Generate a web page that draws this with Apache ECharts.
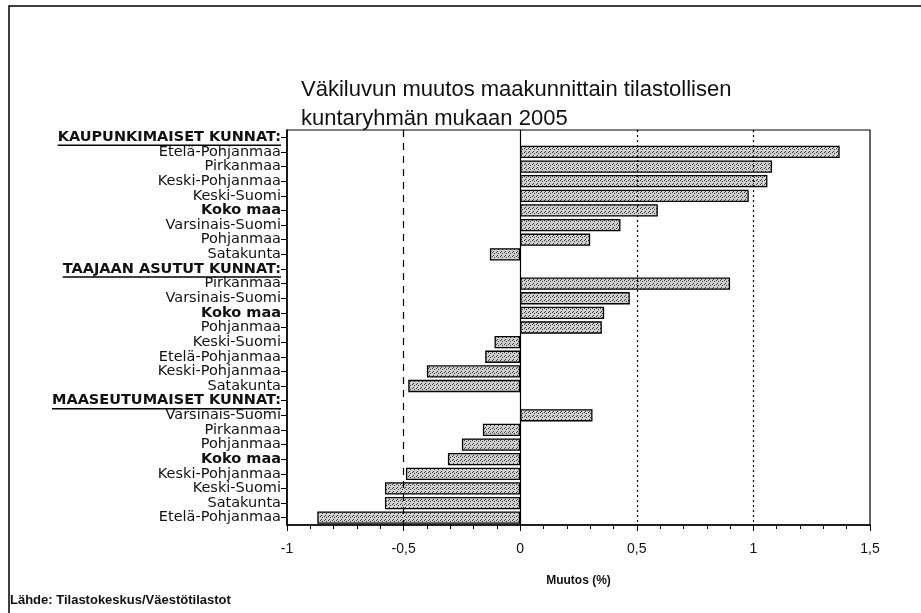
<!DOCTYPE html>
<html>
<head>
<meta charset="utf-8">
<script src="https://cdn.jsdelivr.net/npm/echarts@6/dist/echarts.min.js"></script>
<style>
  html, body { margin: 0; background: #fff; }
  #chart { width: 921px; height: 613px; }
</style>
</head>
<body>
<div id="chart"></div>
<script>
// rivit ylhäältä alas
const categories = [
  'KAUPUNKIMAISET KUNNAT:', 'Etelä-Pohjanmaa', 'Pirkanmaa', 'Keski-Pohjanmaa', 'Keski-Suomi',
  'Koko maa', 'Varsinais-Suomi', 'Pohjanmaa', 'Satakunta',
  'TAAJAAN ASUTUT KUNNAT:', 'Pirkanmaa', 'Varsinais-Suomi', 'Koko maa', 'Pohjanmaa',
  'Keski-Suomi', 'Etelä-Pohjanmaa', 'Keski-Pohjanmaa', 'Satakunta',
  'MAASEUTUMAISET KUNNAT:', 'Varsinais-Suomi', 'Pirkanmaa', 'Pohjanmaa', 'Koko maa',
  'Keski-Pohjanmaa', 'Keski-Suomi', 'Satakunta', 'Etelä-Pohjanmaa'
];
const muutos = [
  null, 1.37, 1.08, 1.06, 0.98, 0.59, 0.43, 0.30, -0.13,
  null, 0.90, 0.47, 0.36, 0.35, -0.11, -0.15, -0.40, -0.48,
  null, 0.31, -0.16, -0.25, -0.31, -0.49, -0.58, -0.58, -0.87
];
const headerRows = [0, 9, 18];
const boldRows = [5, 12, 22];
const xTickLabels = ['-1', '-0,5', '0', '0,5', '1', '1,5'];
const refLines = [-0.5, 0, 0.5, 1];

const gridLeft = 287;
const labelMargin = 6;
const rowSize = 14.5;
const textFont = '"Liberation Sans", Arial, sans-serif';
const rowFont = '"DejaVu Sans", sans-serif';

// pisterasteri palkkeihin
const pat = document.createElement('canvas');
pat.width = 4; pat.height = 4;
const pctx = pat.getContext('2d');
pctx.fillStyle = '#d0d0d0';
pctx.fillRect(0, 0, 4, 4);
pctx.fillStyle = '#3a3a3a';
pctx.fillRect(0, 0, 1, 1);
pctx.fillRect(2, 1, 1, 1);
pctx.fillRect(1, 3, 1, 1);

const refStyles = {
  '-0.5': { type: [7, 6], width: 1.2 },
  '0': { type: 'solid', width: 1.2 },
  '0.5': { type: [2, 3], width: 1.2 },
  '1': { type: [2, 3], width: 1.2 }
};

let myChart = echarts.init(document.getElementById('chart'));

let option = {
  animation: false,
  title: [
    {
      text: 'Väkiluvun muutos maakunnittain tilastollisen\nkuntaryhmän mukaan 2005',
      left: 296,
      top: 70,
      textStyle: {
        fontFamily: textFont,
        fontSize: 22,
        fontWeight: 'normal',
        lineHeight: 29,
        color: '#111'
      }
    },
    {
      text: 'Lähde: Tilastokeskus/Väestötilastot',
      left: 5,
      top: 589,
      textStyle: {
        fontFamily: textFont,
        fontSize: 13,
        fontWeight: 'bold',
        color: '#111'
      }
    }
  ],
  grid: {
    left: gridLeft,
    right: 51,
    top: 130,
    bottom: 88,
    show: true,
    borderColor: '#000',
    borderWidth: 1.2
  },
  xAxis: {
    type: 'value',
    min: -1,
    max: 1.5,
    interval: 0.5,
    name: 'Muutos (%)',
    nameLocation: 'middle',
    nameGap: 50,
    nameTextStyle: {
      fontFamily: textFont,
      fontSize: 12,
      fontWeight: 'bold',
      color: '#111'
    },
    axisLine: { show: true, lineStyle: { color: '#000', width: 1.5 } },
    axisTick: { show: true, length: 6, lineStyle: { color: '#000' } },
    minorTick: { show: true, splitNumber: 5, length: 4, lineStyle: { color: '#000' } },
    splitLine: { show: false },
    axisLabel: {
      margin: 17,
      fontFamily: textFont,
      fontSize: 14,
      color: '#111',
      formatter: (value, index) => xTickLabels[index]
    }
  },
  yAxis: {
    type: 'category',
    inverse: true,
    data: categories,
    axisLine: { show: true, onZero: false, lineStyle: { color: '#000', width: 1.5 } },
    axisTick: { show: true, alignWithLabel: true, length: 6, lineStyle: { color: '#000' } },
    splitLine: { show: false },
    axisLabel: {
      margin: labelMargin,
      interval: 0,
      fontFamily: rowFont,
      fontSize: rowSize,
      color: '#111',
      formatter: (value, index) => {
        if (headerRows.includes(index)) return '{h|' + value + '}';
        if (boldRows.includes(index)) return '{b|' + value + '}';
        return value;
      },
      rich: {
        h: { fontFamily: rowFont, fontSize: rowSize, fontWeight: 'bold', color: '#111' },
        b: { fontFamily: rowFont, fontSize: rowSize, fontWeight: 'bold', color: '#111' }
      }
    }
  },
  series: [
    {
      // apuviivat palkkien taakse
      type: 'line',
      data: [],
      z: 1,
      silent: true,
      markLine: {
        silent: true,
        symbol: 'none',
        label: { show: false },
        data: refLines.map(v => ({
          xAxis: v,
          lineStyle: { color: '#000', type: refStyles[String(v)].type, width: refStyles[String(v)].width }
        }))
      }
    },
    {
      type: 'bar',
      data: muutos,
      z: 2,
      barCategoryGap: '16%',
      itemStyle: {
        color: { image: pat, repeat: 'repeat' },
        borderColor: '#000',
        borderWidth: 1.3
      }
    }
  ]
};

myChart.setOption(option, true);

// otsikkorivien alleviivaukset ja ulkokehys
const mctx = document.createElement('canvas').getContext('2d');
mctx.font = 'bold ' + rowSize + 'px ' + rowFont;
const underlines = headerRows.map(i => {
  const y = myChart.convertToPixel({ yAxisIndex: 0 }, i) + 8;
  const w = mctx.measureText(categories[i]).width;
  const xr = gridLeft - labelMargin;
  return {
    type: 'line',
    shape: { x1: xr - w, y1: y, x2: xr, y2: y },
    style: { stroke: '#000', lineWidth: 1.5 }
  };
});
myChart.setOption({
  graphic: [
    {
      type: 'rect',
      shape: { x: 9, y: 6, width: 1000, height: 1000 },
      style: { fill: null, stroke: '#000', lineWidth: 1.5 }
    }
  ].concat(underlines)
});
</script>
</body>
</html>
